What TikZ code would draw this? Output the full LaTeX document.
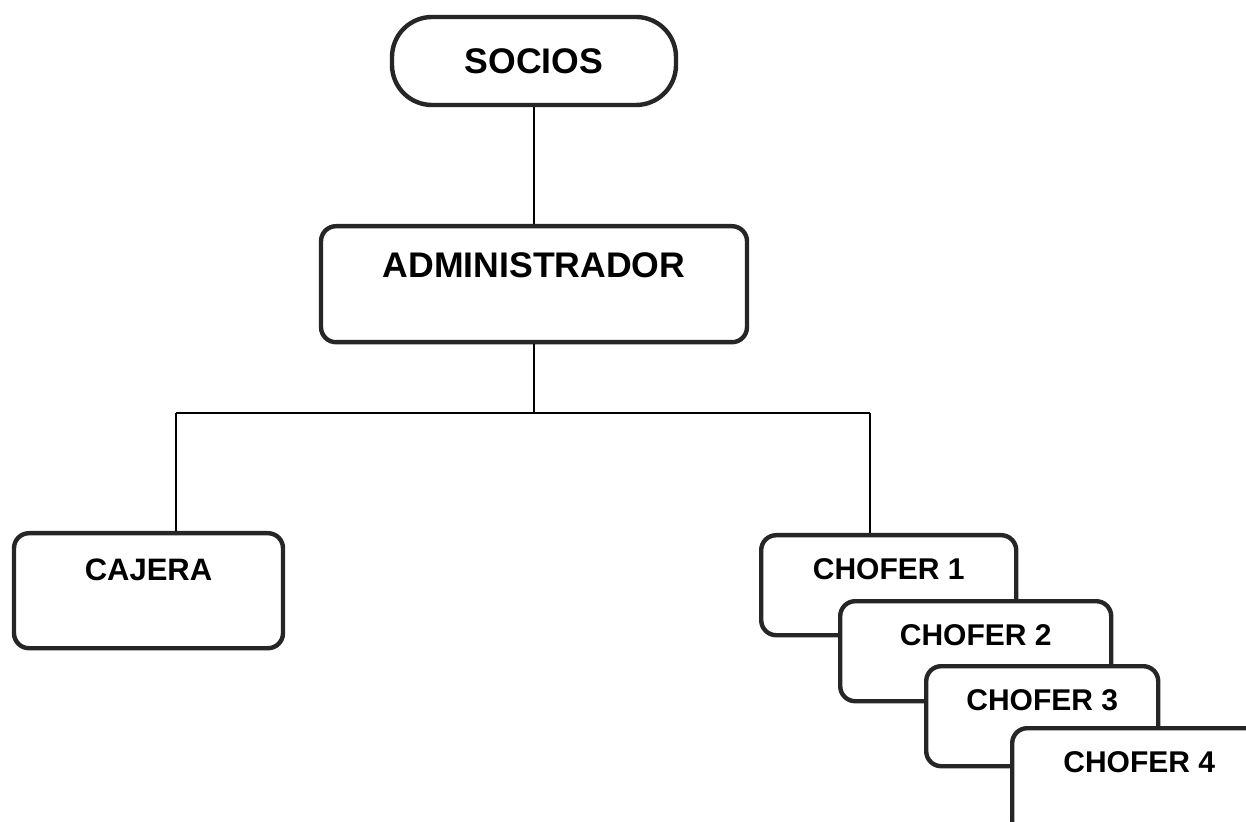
\documentclass[tikz,border=0pt]{standalone}
\usepackage{fontspec}
\setmainfont{Liberation Sans}
\usetikzlibrary{positioning}

\tikzset{
  box/.style={draw=black!85, line width=2.2pt, rounded corners=7.5pt, fill=white, inner sep=0pt},
  link/.style={draw=black, line width=0.7pt},
  bigtext/.style={font=\bfseries\fontsize{17.8}{20}\selectfont},
  smalltext/.style={font=\bfseries\fontsize{15}{18}\selectfont},
  chofer/.style={box, smalltext, anchor=north west, text height=22pt, text depth=28pt},
}

\begin{document}
\begin{tikzpicture}[x=0.5pt, y=-0.5pt]
    \useasboundingbox (0,0) rectangle (1246,822);
    \clip (0,0) rectangle (1246,822);

    \node[box, bigtext, rounded corners=20pt, minimum width=142pt, minimum height=44pt] (socios) at (534,61) {SOCIOS};
    \node[box, bigtext, anchor=north, minimum width=213pt, text height=25.5pt, text depth=32.5pt] (admin) at (534,224) {ADMINISTRADOR};
    \node[box, anchor=north, minimum width=134.5pt, text height=23.5pt, text depth=34pt, font=\bfseries\fontsize{15.5}{18}\selectfont] (cajera) at (148.5,531) {CAJERA};

    \node[chofer, minimum width=127.5pt] (chofer1) at (759,533) {CHOFER 1};
    \node[chofer, minimum width=135.5pt] (chofer2) at (838,599) {CHOFER 2};
    \node[chofer, minimum width=116pt]   (chofer3) at (924,664) {CHOFER 3};
    \node[chofer, minimum width=127pt, text depth=32pt] (chofer4) at (1010,726) {CHOFER 4};

    \coordinate (split) at (534,413);
    \coordinate (toCaj) at (176,413);
    \coordinate (toCho) at (870,413);

    \draw[link] (socios) -- (admin);
    \draw[link] (admin) -- (split);
    \draw[link] (toCaj) -- (toCho);
    \draw[link] (toCaj) -- (toCaj |- cajera.north);
    \draw[link] (toCho) -- (toCho |- chofer1.north);
\end{tikzpicture}
\end{document}
